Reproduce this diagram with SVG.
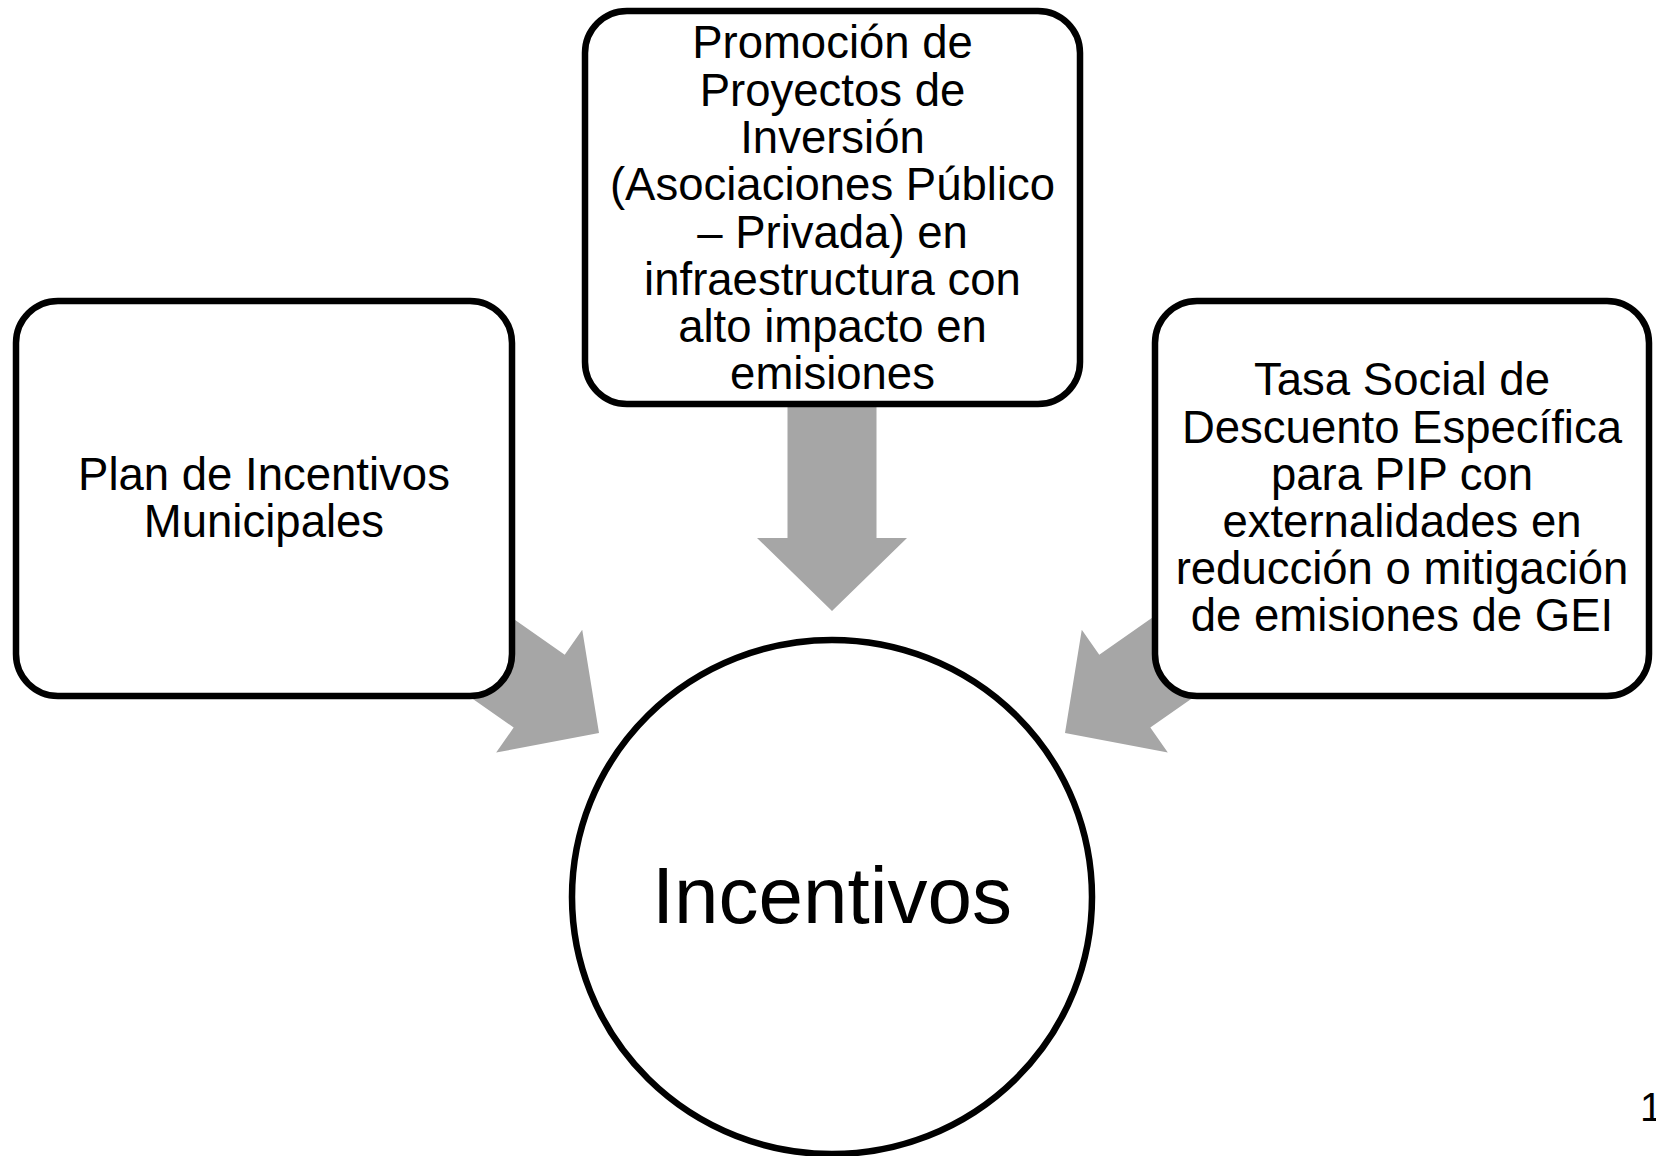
<svg xmlns="http://www.w3.org/2000/svg" width="1656" height="1156" viewBox="0 0 1656 1156">
  <style>
    .box { fill: #FFFFFF; stroke: #000000; stroke-width: 6.5; }
    .arrow { fill: #A6A6A6; stroke: none; }
    .lbl { font-family: "Liberation Sans", Arial, sans-serif; font-size: 45.5px; fill: #000000; text-anchor: middle; }
    .big { font-family: "Liberation Sans", Arial, sans-serif; font-size: 80px; fill: #000000; text-anchor: middle; }
    .pg { font-family: "Liberation Sans", Arial, sans-serif; font-size: 40px; fill: #000000; }
  </style>
  <defs>
    <path id="blockArrow" d="M0,0 L-73,-75 L-73,-44.5 L-260,-44.5 L-260,44.5 L-73,44.5 L-73,75 Z"/>
  </defs>
  <rect x="0" y="0" width="1656" height="1156" fill="#FFFFFF"/>

  <g id="connectors">
    <use href="#blockArrow" class="arrow" transform="translate(832,611) rotate(90)"/>
    <use href="#blockArrow" class="arrow" transform="translate(599,733) rotate(35)"/>
    <use href="#blockArrow" class="arrow" transform="translate(1065,733) rotate(145)"/>
  </g>

  <g id="node-promocion">
    <rect class="box" x="585" y="11" width="495" height="393" rx="42" ry="42"/>
    <text class="lbl" x="832.5" y="58">Promoción de</text>
    <text class="lbl" x="832.5" y="105.5">Proyectos de</text>
    <text class="lbl" x="832.5" y="153">Inversión</text>
    <text class="lbl" x="832.5" y="200">(Asociaciones Público</text>
    <text class="lbl" x="832.5" y="247.5">– Privada) en</text>
    <text class="lbl" x="832.5" y="295">infraestructura con</text>
    <text class="lbl" x="832.5" y="342">alto impacto en</text>
    <text class="lbl" x="832.5" y="389">emisiones</text>
  </g>

  <g id="node-plan">
    <rect class="box" x="16" y="301" width="496" height="395" rx="42" ry="42"/>
    <text class="lbl" x="264" y="490">Plan de Incentivos</text>
    <text class="lbl" x="264" y="537">Municipales</text>
  </g>

  <g id="node-tasa">
    <rect class="box" x="1155" y="301" width="494" height="395" rx="42" ry="42"/>
    <text class="lbl" x="1402" y="395">Tasa Social de</text>
    <text class="lbl" x="1402" y="443">Descuento Específica</text>
    <text class="lbl" x="1402" y="490">para PIP con</text>
    <text class="lbl" x="1402" y="537">externalidades en</text>
    <text class="lbl" x="1402" y="584">reducción o mitigación</text>
    <text class="lbl" x="1402" y="631">de emisiones de GEI</text>
  </g>

  <g id="node-incentivos">
    <ellipse class="box" cx="832" cy="897" rx="260" ry="257"/>
    <text class="big" x="832" y="923">Incentivos</text>
  </g>

  <text id="page-number" class="pg" x="1640" y="1121">1</text>
</svg>
